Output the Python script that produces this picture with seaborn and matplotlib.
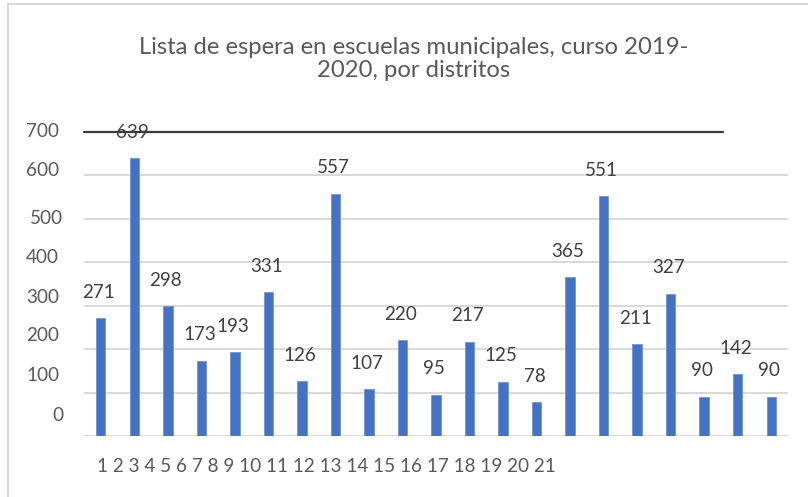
import matplotlib
matplotlib.use("Agg")
import matplotlib.pyplot as plt
import matplotlib.transforms as mtransforms
from matplotlib.lines import Line2D
import seaborn as sns
import pandas as pd

# ---- data ----
districts = [str(i) for i in range(1, 22)]
values = [271, 639, 298, 173, 193, 331, 126, 557, 107, 220, 95, 217, 125, 78,
          365, 551, 211, 327, 90, 142, 90]
title = "Lista de espera en escuelas municipales, curso 2019-\n2020, por distritos"
ytick_labels = ["0", "100", "200", "300", "400", "500", "600", "700"]
ytick_label_pos = [48, 138, 230, 319, 410, 500, 610, 699]
grid_values = [0, 100, 200, 300, 400, 500, 600]
xlabel_text = " ".join(districts)

sns.set_theme(style="white")
plt.rcParams['font.family'] = ['Lato', 'DejaVu Sans']

W, H = 808, 497
fig = plt.figure(figsize=(W / 100, H / 100), dpi=100)
ax = fig.add_axes([84 / W, (H - 436) / H, (788 - 84) / W, (436 - 131.5) / H])

df = pd.DataFrame({"district": districts, "value": values})
sns.barplot(data=df, x="district", y="value", order=districts, color="#4472C4",
            saturation=1, width=0.28, ax=ax, edgecolor="#6f93d6", linewidth=0.6,
            zorder=3)

ax.set_xlim(-0.5, 20.5)
ax.set_ylim(0, 700)
for s in ax.spines.values():
    s.set_visible(False)
ax.set_xticks([])
ax.set_yticks([])
ax.set_xlabel("")
ax.set_ylabel("")
ax.grid(False)

for g in grid_values:
    ax.axhline(g, color="#d9d9d9", lw=1.4, zorder=1)
ax.axhline(700, xmin=0, xmax=(723 - 84) / 704, color="#3a3a3a", lw=1.6,
           clip_on=False, zorder=2)

# value labels
for i, v in enumerate(values):
    ax.annotate(str(v), xy=(i, v), xytext=(-2, 26), textcoords="offset pixels",
                ha="center", va="center", fontsize=13.6, color="#404040",
                zorder=4, annotation_clip=False)

# y labels (misaligned as in reference)
trans = mtransforms.blended_transform_factory(ax.transAxes, ax.transData)
for lab, pos in zip(ytick_labels, ytick_label_pos):
    dx = -21 if lab in ("0", "500") else -25
    ax.annotate(lab, xy=(0, pos), xycoords=trans, xytext=(dx, 0),
                textcoords="offset pixels", ha="right", va="center",
                fontsize=13.6, color="#595959", annotation_clip=False)

# x labels as one string
fig.text(97 / W, (H - 467) / H, xlabel_text, ha="left", va="center",
         fontsize=13.6, color="#595959")

# title
fig.text(414 / W, (H - 59) / H, title, ha="center", va="center",
         fontsize=17.2, color="#595959", linespacing=1.12)

# chart border (cropped at right/bottom)
fig.add_artist(Line2D([8 / W, 8 / W], [0, (H - 4) / H], transform=fig.transFigure,
                      color="#d9d9d9", lw=1.5))
fig.add_artist(Line2D([8 / W, 1], [(H - 4) / H, (H - 4) / H], transform=fig.transFigure,
                      color="#d9d9d9", lw=1.5))

fig.savefig("out.png", dpi=100)
